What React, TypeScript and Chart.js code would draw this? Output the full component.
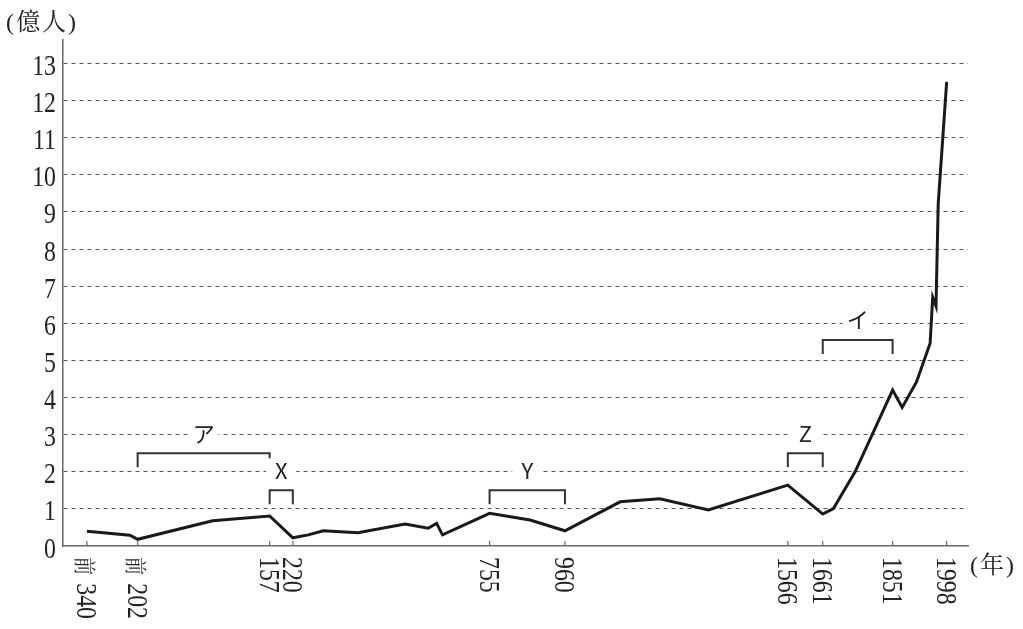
import { useEffect, useRef, useState } from 'react';
import { Chart, registerables } from 'chart.js';

Chart.register(...registerables);

// Population of China (hundred millions) by year (negative = BC)
const years = [-340, -223, -202, 2, 157, 220, 262, 303, 397, 525, 588, 611, 627, 755, 865, 960, 1110, 1218, 1350, 1566, 1661, 1690, 1749, 1851, 1877, 1916, 1953, 1960, 1969, 1975, 1998];
const population = [0.40, 0.29, 0.18, 0.68, 0.81, 0.22, 0.30, 0.41, 0.36, 0.59, 0.48, 0.61, 0.30, 0.88, 0.70, 0.41, 1.19, 1.27, 0.97, 1.64, 0.86, 1.01, 2.0, 4.2, 3.73, 4.42, 5.46, 6.70, 6.46, 9.22, 12.5];

const xTickYears = [-340, -202, 157, 220, 755, 960, 1566, 1661, 1851, 1998];
const xTickLabels = ['前 340', '前 202', '157', '220', '755', '960', '1566', '1661', '1851', '1998'];

const yTickValues = [0, 1, 2, 3, 4, 5, 6, 7, 8, 9, 10, 11, 12, 13];
const yTickLabels = ['0', '1', '2', '3', '4', '5', '6', '7', '8', '9', '10', '11', '12', '13'];

const bracketLabels = ['ア', 'X', 'Y', 'Z', 'イ'];
const bracketFrom = [-202, 157, 755, 1566, 1661];
const bracketTo = [157, 220, 960, 1661, 1851];
const bracketLevel = [2.5, 1.5, 1.5, 2.5, 5.55];

const yAxisTitle = '(億人)';
const xAxisTitle = '(年)';

const SERIF_CSS = '"Liberation Serif", "Noto Serif CJK JP", serif';
const SERIF_CJK_CSS = '"Noto Serif CJK JP", "Liberation Serif", serif';
const SANS_CJK = '"Noto Sans CJK JP"';

const overlayPlugin = {
  id: 'overlay',
  afterDraw(chart: any) {
    const { ctx, chartArea } = chart;
    const xs = chart.scales.x;
    const ys = chart.scales.y;
    ctx.save();

    // x tick marks (inside the plot)
    xTickYears.forEach((yr) => {
      const px = xs.getPixelForValue(yr);
      ctx.strokeStyle = '#666';
      ctx.lineWidth = 1.2;
      ctx.beginPath();
      ctx.moveTo(px, chartArea.bottom);
      ctx.lineTo(px, chartArea.bottom - 5);
      ctx.stroke();
    });

    // brackets with labels
    bracketLabels.forEach((lab, i) => {
      const x1 = xs.getPixelForValue(bracketFrom[i]);
      const x2 = xs.getPixelForValue(bracketTo[i]);
      const py = ys.getPixelForValue(bracketLevel[i]);
      ctx.strokeStyle = '#333';
      ctx.lineWidth = 2;
      ctx.beginPath();
      ctx.moveTo(x1, py + 14);
      ctx.lineTo(x1, py);
      ctx.lineTo(x2, py);
      ctx.lineTo(x2, py + 14);
      ctx.stroke();
      const cx = (x1 + x2) / 2;
      const cy = py - 20;
      ctx.fillStyle = '#fff';
      ctx.fillRect(cx - 15, cy - 12, 30, 24);
      ctx.fillStyle = '#222';
      ctx.font = `22px ${SANS_CJK}`;
      ctx.textAlign = 'center';
      ctx.textBaseline = 'middle';
      ctx.fillText(lab, cx, cy);
    });

    ctx.restore();
  },
};

type Pos = { xs: number[]; ys: number[]; bottom: number } | null;

export default function App() {
  const ref = useRef<HTMLCanvasElement | null>(null);
  const [pos, setPos] = useState<Pos>(null);

  useEffect(() => {
    if (!ref.current) return;
    const chart = new Chart(ref.current, {
      type: 'line',
      data: {
        datasets: [
          {
            data: years.map((yr, i) => ({ x: yr, y: population[i] })),
            borderColor: '#1a1a1a',
            borderWidth: 3,
            pointRadius: 0,
            tension: 0,
            fill: false,
          },
        ],
      },
      options: {
        animation: false,
        responsive: false,
        devicePixelRatio: 1,
        layout: { padding: { left: 0, top: 40, right: 55, bottom: 0 } },
        plugins: { legend: { display: false }, tooltip: { enabled: false } },
        scales: {
          x: {
            type: 'linear',
            min: -405,
            max: 2056,
            grid: { display: false },
            ticks: { display: false },
            border: { color: '#666', width: 1.5 },
            afterFit: (scale: any) => {
              scale.height = 83;
            },
          },
          y: {
            type: 'linear',
            min: 0,
            max: 13.63,
            afterBuildTicks: (scale: any) => {
              scale.ticks = yTickValues.map((v) => ({ value: v }));
            },
            ticks: { display: false },
            grid: {
              color: (c: any) => (c.tick && c.tick.value === 0 ? 'rgba(0,0,0,0)' : '#555'),
              lineWidth: 1,
              drawTicks: false,
            },
            border: { color: '#666', width: 1.5, dash: [4, 4] },
            afterFit: (scale: any) => {
              scale.width = 63;
            },
          },
        },
      },
      plugins: [overlayPlugin],
    });
    const sx: any = chart.scales.x;
    const sy: any = chart.scales.y;
    setPos({
      xs: xTickYears.map((v) => sx.getPixelForValue(v)),
      ys: yTickValues.map((v) => sy.getPixelForValue(v)),
      bottom: chart.chartArea.bottom,
    });
    let alive = true;
    const t = setTimeout(() => {
      if (alive) chart.draw();
    }, 300);
    return () => {
      alive = false;
      clearTimeout(t);
      chart.destroy();
    };
  }, []);

  const base: any = { position: 'absolute', whiteSpace: 'nowrap', lineHeight: 1, margin: 0, color: '#222' };

  return (
    <div style={{ position: 'absolute', left: 0, top: 0, width: 1023, height: 629, background: '#fff', overflow: 'hidden' }}>
      <canvas ref={ref} width={1023} height={629} style={{ display: 'block' }} />
      {pos && (
        <>
          {yTickLabels.map((lab, i) => (
            <div
              key={'y' + i}
              style={{
                ...base,
                left: 0,
                width: 56,
                top: pos.ys[i] + 1.5,
                textAlign: 'right',
                fontFamily: SERIF_CSS,
                fontSize: 29,
                transform: 'translateY(-50%) scaleX(0.82)',
                transformOrigin: 'right center',
              }}
            >
              {lab}
            </div>
          ))}
          {xTickLabels.map((lab, i) => {
            const hasPrefix = lab.startsWith('前');
            const digits = hasPrefix ? lab.slice(1).trim() : lab;
            return (
              <div
                key={'x' + i}
                style={{
                  ...base,
                  left: pos.xs[i] - 1,
                  top: pos.bottom + 11,
                  fontFamily: SERIF_CSS,
                  fontSize: 29,
                  transformOrigin: '0 0',
                  transform: 'rotate(90deg) translate(0, -50%) scaleX(0.82)',
                }}
              >
                {hasPrefix && (
                  <span style={{ fontFamily: SERIF_CJK_CSS, fontSize: 22, marginRight: 10 }}>前</span>
                )}
                {digits}
              </div>
            );
          })}
          <div
            style={{
              ...base,
              left: 6,
              top: 22,
              fontFamily: SERIF_CSS,
              fontSize: 24,
              letterSpacing: 2,
              transform: 'translateY(-50%)',
            }}
          >
            {yAxisTitle}
          </div>
          <div
            style={{
              ...base,
              left: 970,
              top: 565,
              fontFamily: SERIF_CSS,
              fontSize: 24,
              letterSpacing: 2,
              transform: 'translateY(-50%)',
            }}
          >
            {xAxisTitle}
          </div>
        </>
      )}
    </div>
  );
}
